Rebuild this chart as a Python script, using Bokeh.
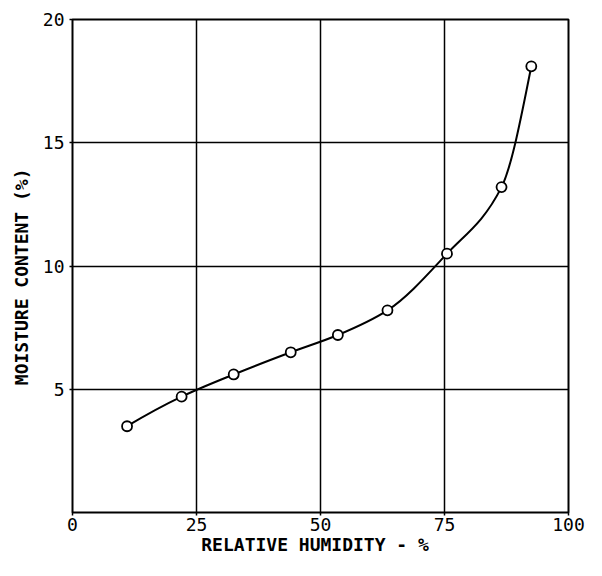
from bokeh.plotting import figure
from bokeh.models import FixedTicker, Range1d
from bokeh.embed import file_html
from bokeh.resources import INLINE

# Data
relative_humidity = [11, 22, 32.5, 44, 53.5, 63.5, 75.5, 86.5, 92.5]
moisture_content = [3.5, 4.7, 5.6, 6.5, 7.2, 8.2, 10.5, 13.2, 18.1]
x_ticks = [0, 25, 50, 75, 100]
y_ticks = [5, 10, 15, 20]

FONT = "DejaVu Sans Mono"

p = figure(width=586, height=560, x_range=Range1d(0, 100), y_range=Range1d(0, 20),
           output_backend="svg", toolbar_location=None,
           min_border_left=72, min_border_right=18, min_border_top=19, min_border_bottom=48)
p.background_fill_color = "white"
p.border_fill_color = "white"
p.outline_line_color = "black"
p.outline_line_width = 2

for ax in (p.xaxis, p.yaxis):
    ax.axis_line_color = None
    ax.major_tick_in = 0
    ax.major_tick_out = 3
    ax.major_tick_line_color = "black"
    ax.major_tick_line_width = 1.5
    ax.minor_tick_line_color = None
    ax.major_label_text_font = FONT
    ax.major_label_text_font_size = "18px"
    ax.major_label_text_color = "black"
    ax.axis_label_text_font = FONT
    ax.axis_label_text_font_size = "18px"
    ax.axis_label_text_font_style = "bold"
    ax.axis_label_text_color = "black"

p.xaxis.ticker = FixedTicker(ticks=x_ticks)
p.yaxis.ticker = FixedTicker(ticks=y_ticks)
p.xaxis.major_label_standoff = 2
p.yaxis.major_label_standoff = 5
p.xaxis.axis_label = "RELATIVE  HUMIDITY - %"
p.yaxis.axis_label = "MOISTURE  CONTENT  (%)"
p.xaxis.axis_label_standoff = 0
p.yaxis.axis_label_standoff = 8

p.xgrid.ticker = FixedTicker(ticks=x_ticks)
p.ygrid.ticker = FixedTicker(ticks=y_ticks)
for g in (p.xgrid, p.ygrid):
    g.grid_line_color = "black"
    g.grid_line_width = 1.5
    g.grid_line_alpha = 1.0

# Smooth monotone (PCHIP) curve through the points, drawn as cubic Bezier segments
X, Y = relative_humidity, moisture_content
n = len(X)
h = [X[i + 1] - X[i] for i in range(n - 1)]
d = [(Y[i + 1] - Y[i]) / h[i] for i in range(n - 1)]
m = [0.0] * n
for k in range(1, n - 1):
    if d[k - 1] * d[k] > 0:
        w1 = 2 * h[k] + h[k - 1]
        w2 = h[k] + 2 * h[k - 1]
        m[k] = (w1 + w2) / (w1 / d[k - 1] + w2 / d[k])
m[0] = ((2 * h[0] + h[1]) * d[0] - h[0] * d[1]) / (h[0] + h[1])
m[-1] = ((2 * h[-1] + h[-2]) * d[-1] - h[-1] * d[-2]) / (h[-1] + h[-2])
x0, y0, x1, y1, cx0, cy0, cx1, cy1 = [], [], [], [], [], [], [], []
for i in range(n - 1):
    s = h[i] / 3.0
    x0.append(X[i]); y0.append(Y[i]); x1.append(X[i + 1]); y1.append(Y[i + 1])
    cx0.append(X[i] + s); cy0.append(Y[i] + m[i] * s)
    cx1.append(X[i + 1] - s); cy1.append(Y[i + 1] - m[i + 1] * s)
p.bezier(x0=x0, y0=y0, x1=x1, y1=y1, cx0=cx0, cy0=cy0, cx1=cx1, cy1=cy1,
         line_color="black", line_width=2)

p.scatter(relative_humidity, moisture_content, marker="circle", size=10,
          fill_color="white", line_color="black", line_width=1.8)

open("out.html", "w").write(file_html(p, INLINE))
